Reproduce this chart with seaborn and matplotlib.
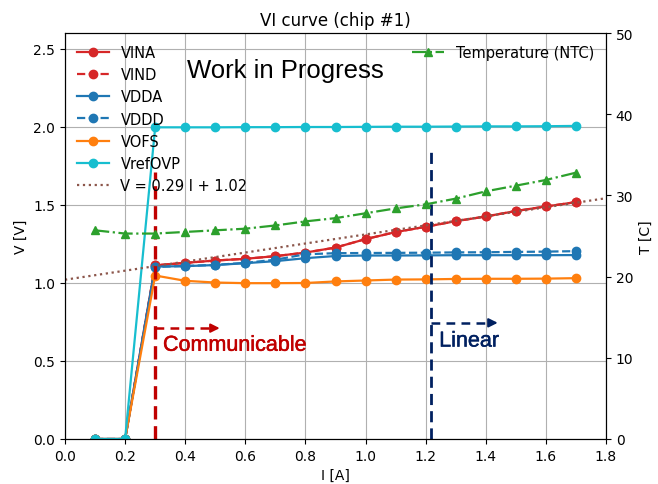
import matplotlib
matplotlib.use("Agg")
import matplotlib.pyplot as plt
import matplotlib.patheffects as pe
import seaborn as sns
import numpy as np
import pandas as pd

# ---------------- data ----------------
current = [0.1, 0.2, 0.3, 0.4, 0.5, 0.6, 0.7, 0.8, 0.9, 1.0, 1.1, 1.2, 1.3, 1.4, 1.5, 1.6, 1.7]
vina = [0.0, 0.0, 1.112, 1.128, 1.143, 1.154, 1.171, 1.194, 1.226, 1.280, 1.325, 1.359, 1.395, 1.425, 1.460, 1.489, 1.517]
vind = [0.0, 0.0, 1.112, 1.128, 1.143, 1.154, 1.171, 1.194, 1.226, 1.280, 1.325, 1.359, 1.395, 1.425, 1.460, 1.489, 1.517]
vdda = [0.0, 0.0, 1.104, 1.107, 1.114, 1.126, 1.139, 1.158, 1.172, 1.175, 1.175, 1.176, 1.177, 1.177, 1.177, 1.177, 1.178]
vddd = [0.0, 0.0, 1.102, 1.108, 1.115, 1.128, 1.148, 1.183, 1.190, 1.191, 1.192, 1.193, 1.195, 1.196, 1.198, 1.200, 1.203]
vofs = [0.0, 0.0, 1.047, 1.013, 1.002, 0.998, 0.998, 0.999, 1.009, 1.015, 1.021, 1.022, 1.025, 1.026, 1.026, 1.027, 1.030]
vrefovp = [0.0, 0.0, 1.996, 1.996, 1.996, 1.997, 1.997, 1.998, 1.998, 1.999, 2.000, 2.000, 2.001, 2.002, 2.002, 2.003, 2.005]
temperature = [25.7, 25.3, 25.3, 25.5, 25.7, 25.9, 26.3, 26.8, 27.2, 27.8, 28.4, 28.9, 29.6, 30.5, 31.2, 31.9, 32.8]
fit_current = [0.0, 1.8]
fit_voltage = [1.02, 1.542]

xticks = [0.0, 0.2, 0.4, 0.6, 0.8, 1.0, 1.2, 1.4, 1.6, 1.8]
yticks = [0.0, 0.5, 1.0, 1.5, 2.0, 2.5]
tticks = [0, 10, 20, 30, 40, 50]

# annotation constants
comm_x, comm_top = 0.3, 1.71
lin_x, lin_top = 1.218, 1.84
comm_arrow_y, comm_arrow_tip = 0.71, 0.524
lin_arrow_y, lin_arrow_tip = 0.744, 1.449
red_ann = "#c00000"
navy_ann = "#002060"

# ---------------- figure ----------------
fig = plt.figure(figsize=(6.58, 4.85), dpi=100)
ax = fig.add_axes([65/658, 1-440/485, (606-65)/658, (440-34)/485])

series = [
    ("VINA", vina, "tab:red", "-"),
    ("VIND", vind, "tab:red", "--"),
    ("VDDA", vdda, "tab:blue", "-"),
    ("VDDD", vddd, "tab:blue", "--"),
    ("VOFS", vofs, "tab:orange", "-"),
    ("VrefOVP", vrefovp, "tab:cyan", "-"),
]
for name, vals, col, ls in series:
    df = pd.DataFrame({"I": current, "V": vals})
    sns.lineplot(data=df, x="I", y="V", ax=ax, color=col, linestyle=ls,
                 marker="o", markersize=6, markeredgecolor=col,
                 markeredgewidth=1, linewidth=1.6, label=name, legend=False)

dfit = pd.DataFrame({"I": fit_current, "V": fit_voltage})
sns.lineplot(data=dfit, x="I", y="V", ax=ax, color="tab:brown", linestyle=":",
             linewidth=1.6, label="V = 0.29 I + 1.02", legend=False)

ax.set_xlim(0, 1.8)
ax.set_ylim(0, 2.6)
ax.set_xticks(xticks)
ax.set_yticks(yticks)
ax.grid(True, color="#b0b0b0", linewidth=0.8)
ax.set_axisbelow(True)
ax.set_xlabel("I [A]")
ax.set_ylabel("V [V]")
ax.set_title("VI curve (chip #1)")

handles, labels = ax.get_legend_handles_labels()
ax.legend(handles, labels, loc="upper left", frameon=False, fontsize=10.5,
          handlelength=2.2, borderaxespad=0.4)

ax2 = ax.twinx()
dft = pd.DataFrame({"I": current, "T": temperature})
sns.lineplot(data=dft, x="I", y="T", ax=ax2, color="tab:green", linestyle="-.",
             marker="^", markersize=6, markeredgecolor="tab:green",
             markeredgewidth=1, linewidth=1.6, label="Temperature (NTC)", legend=False)
ax2.set_ylim(0, 50)
ax2.set_yticks(tticks)
ax2.set_ylabel("T [C]")
h2, l2 = ax2.get_legend_handles_labels()
ax2.legend(h2, l2, loc="upper right", frameon=False, fontsize=10.5,
           handlelength=2.2, borderaxespad=0.4)

# ---------------- annotations ----------------
ax.plot([comm_x, comm_x], [0, comm_top], color=red_ann, lw=2.4, dashes=(4, 2.0))
ax.plot([lin_x, lin_x], [0, lin_top], color=navy_ann, lw=2.0, dashes=(4, 2.2))
ax.plot([comm_x, comm_arrow_tip - 0.03], [comm_arrow_y, comm_arrow_y], color=red_ann, lw=1.8, dashes=(3.5, 2.5))
ax.annotate("", xy=(comm_arrow_tip, comm_arrow_y), xytext=(comm_arrow_tip - 0.035, comm_arrow_y),
            arrowprops=dict(arrowstyle="-|>", color=red_ann, lw=1.5, mutation_scale=13))
ax.plot([lin_x, lin_arrow_tip - 0.03], [lin_arrow_y, lin_arrow_y], color=navy_ann, lw=1.8, dashes=(3.5, 2.5))
ax.annotate("", xy=(lin_arrow_tip, lin_arrow_y), xytext=(lin_arrow_tip - 0.035, lin_arrow_y),
            arrowprops=dict(arrowstyle="-|>", color=navy_ann, lw=1.5, mutation_scale=13))

stroke_r = [pe.withStroke(linewidth=0.35, foreground=red_ann)]
stroke_n = [pe.withStroke(linewidth=0.35, foreground=navy_ann)]
ax.text(0.326, 0.565, "Communicable", color=red_ann, fontsize=15.5,
        family="Liberation Sans", ha="left", va="baseline", path_effects=stroke_r)
ax.text(1.245, 0.592, "Linear", color=navy_ann, fontsize=15.5,
        family="Liberation Sans", ha="left", va="baseline", path_effects=stroke_n)
ax.text(0.407, 2.316, "Work in Progress", color="black", fontsize=18.5,
        family="Liberation Sans", ha="left", va="baseline")

fig.savefig("out.png", dpi=100)
